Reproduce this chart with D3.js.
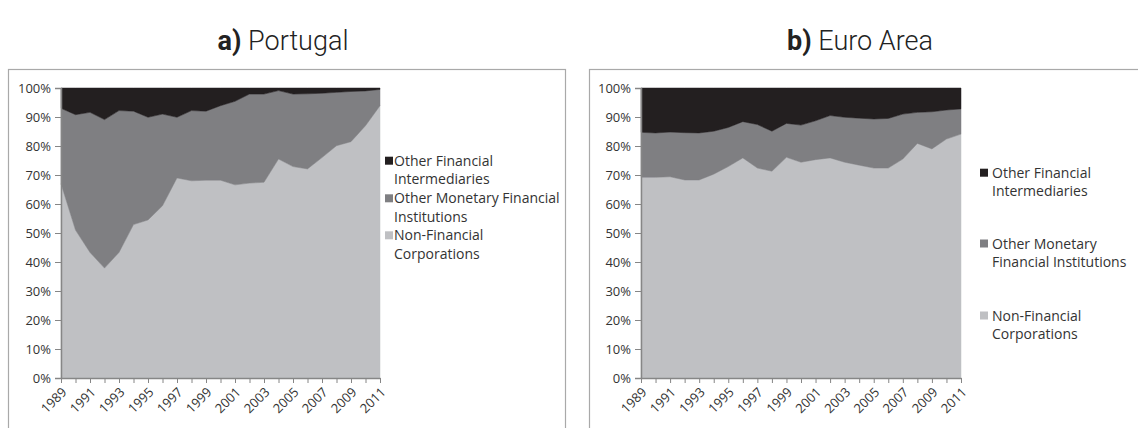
<!DOCTYPE html>
<html>
<head>
<meta charset="utf-8">
<script src="https://cdn.jsdelivr.net/npm/d3@7"></script>
<style>
  body { margin: 0; background: #fff; }
  svg { display: block; }
  .tick text { font-family: "Open Sans", sans-serif; font-size: 13px; fill: #333; }
</style>
</head>
<body>
<svg id="chart" width="1138" height="428"></svg>
<script>
var years = [1989, 1990, 1991, 1992, 1993, 1994, 1995, 1996, 1997, 1998, 1999, 2000,
             2001, 2002, 2003, 2004, 2005, 2006, 2007, 2008, 2009, 2010, 2011];
var yTicks = [0, 10, 20, 30, 40, 50, 60, 70, 80, 90, 100];
var keys = ["nfc", "omfi", "ofi"];
var colors = { ofi: "#231f20", omfi: "#7f7f82", nfc: "#bfc0c3" };

// Portugal, shares in %
var ptNfc  = [67, 51, 43.3, 37.9, 43.3, 52.9, 54.5, 59.4, 69, 68, 68.2, 68.2, 66.6, 67.2, 67.5, 75.5, 72.9, 72.1, 76, 80.1, 81.5, 87, 93.9];
var ptOmfi = [26, 39.8, 48.3, 51.2, 48.9, 39.1, 35.4, 31.6, 20.9, 24.2, 23.8, 25.7, 28.8, 30.7, 30.4, 23.6, 25, 25.9, 22.2, 18.4, 17.3, 12, 5.6];
var ptOfi  = [7, 9.2, 8.4, 10.9, 7.8, 8, 10.1, 9, 10.1, 7.8, 8, 6.1, 4.6, 2.1, 2.1, 0.9, 2.1, 2, 1.8, 1.5, 1.2, 1, 0.5];

// Euro Area, shares in %
var eaNfc  = [69.2, 69.2, 69.4, 68.3, 68.3, 70.3, 72.9, 75.9, 72.4, 71.3, 76.1, 74.4, 75.3, 75.9, 74.4, 73.4, 72.4, 72.4, 75.5, 80.9, 79, 82.4, 84.1];
var eaOmfi = [15.5, 15.3, 15.4, 16.3, 16.2, 14.8, 13.5, 12.5, 15, 13.8, 11.7, 12.8, 13.4, 14.6, 15.5, 16.2, 16.9, 17.1, 15.5, 10.7, 12.8, 10, 8.7];
var eaOfi  = [15.3, 15.5, 15.2, 15.4, 15.5, 14.9, 13.6, 11.6, 12.6, 14.9, 12.2, 12.8, 11.3, 9.5, 10.1, 10.4, 10.7, 10.5, 9, 8.4, 8.2, 7.6, 7.2];

var legendPt = [["Other Financial", "Intermediaries"], ["Other Monetary Financial", "Institutions"], ["Non-Financial", "Corporations"]];
var legendEa = [["Other Financial", "Intermediaries"], ["Other Monetary", "Financial Institutions"], ["Non-Financial", "Corporations"]];

var svg = d3.select("#chart");

function drawPanel(opt) {
	var rows = years.map(function(y, i) {
		return { year: y, nfc: opt.nfc[i], omfi: opt.omfi[i], ofi: opt.ofi[i] };
	});

	// outer frame
	svg.append("rect")
		.attr("x", opt.frame[0] + 0.5)
		.attr("y", 69.5)
		.attr("width", opt.frame[1] - opt.frame[0])
		.attr("height", 400)
		.attr("fill", "none")
		.attr("stroke", "#a9a9a9")
		.attr("stroke-width", 1.2);

	// title
	var t = svg.append("text")
		.attr("x", opt.titleX)
		.attr("y", 50)
		.attr("text-anchor", "middle")
		.style("font-family", "Roboto, 'Open Sans', sans-serif")
		.style("font-size", "27px")
		.style("fill", "#222");
	t.append("tspan").style("font-weight", "bold").text(opt.letter);
	t.append("tspan").style("font-weight", "300").text(" " + opt.title);

	var x = d3.scaleLinear().domain([years[0], years[years.length - 1]]).range([opt.left, opt.right]);
	var y = d3.scaleLinear().domain([0, 100]).range([378, 88]);

	var stack = d3.stack().keys(keys);
	var layers = stack(rows);

	var area = d3.area()
		.x(function(d) { return x(d.data.year); })
		.y0(function(d) { return y(d[0]); })
		.y1(function(d) { return y(d[1]); });

	svg.append("g")
		.selectAll("path")
		.data(layers)
		.enter()
		.append("path")
		.attr("d", area)
		.attr("fill", function(d) { return colors[d.key]; })
		.attr("stroke", function(d) { return colors[d.key]; })
		.attr("stroke-width", 0.5);

	// y axis
	var ya = svg.append("g")
		.attr("transform", "translate(" + opt.left + ",0)")
		.call(d3.axisLeft(y).tickValues(yTicks).tickSize(6).tickPadding(4)
			.tickFormat(function(d) { return d + "%"; }));
	ya.select(".domain").attr("stroke", "#868686").attr("stroke-width", 1.5);
	ya.selectAll(".tick line").attr("stroke", "#868686");

	// x axis
	var xa = svg.append("g")
		.attr("transform", "translate(0,378)")
		.call(d3.axisBottom(x).tickValues(years).tickSize(5).tickSizeOuter(0)
			.tickFormat(function(d) { return (d - years[0]) % 2 === 0 ? d : ""; }));
	xa.select(".domain").attr("stroke", "#868686").attr("stroke-width", 1.5);
	xa.selectAll(".tick line").attr("stroke", "#868686");
	xa.selectAll(".tick text")
		.attr("text-anchor", "end")
		.attr("dy", null)
		.attr("y", 0)
		.attr("transform", "translate(6,15) rotate(-45)");

	// legend
	var lg = svg.append("g").attr("transform", "translate(" + opt.legendX + ",0)");
	var order = ["ofi", "omfi", "nfc"];
	order.forEach(function(k, i) {
		var cy = opt.legendY[i];
		lg.append("rect")
			.attr("x", 0)
			.attr("y", cy - 4)
			.attr("width", 8)
			.attr("height", 8)
			.attr("fill", colors[k]);
		var tx = lg.append("text")
			.attr("x", opt.textDx)
			.attr("y", cy + 5)
			.style("font-family", "'Open Sans', sans-serif")
			.style("font-size", "14px")
			.style("fill", "#333");
		opt.legend[i].forEach(function(line, j) {
			tx.append("tspan")
				.attr("x", opt.textDx)
				.attr("dy", j === 0 ? 0 : 18.7)
				.text(line);
		});
	});
}

drawPanel({
	frame: [8, 565], letter: "a)", title: "Portugal", titleX: 283,
	left: 61, right: 380,
	nfc: ptNfc, omfi: ptOmfi, ofi: ptOfi,
	legend: legendPt, legendX: 385, textDx: 9, legendY: [160.7, 198.3, 235.3]
});

drawPanel({
	frame: [589, 1150], letter: "b)", title: "Euro Area", titleX: 860,
	left: 641, right: 961,
	nfc: eaNfc, omfi: eaOmfi, ofi: eaOfi,
	legend: legendEa, legendX: 980, textDx: 12, legendY: [172.7, 243.5, 315.5]
});
</script>
</body>
</html>
